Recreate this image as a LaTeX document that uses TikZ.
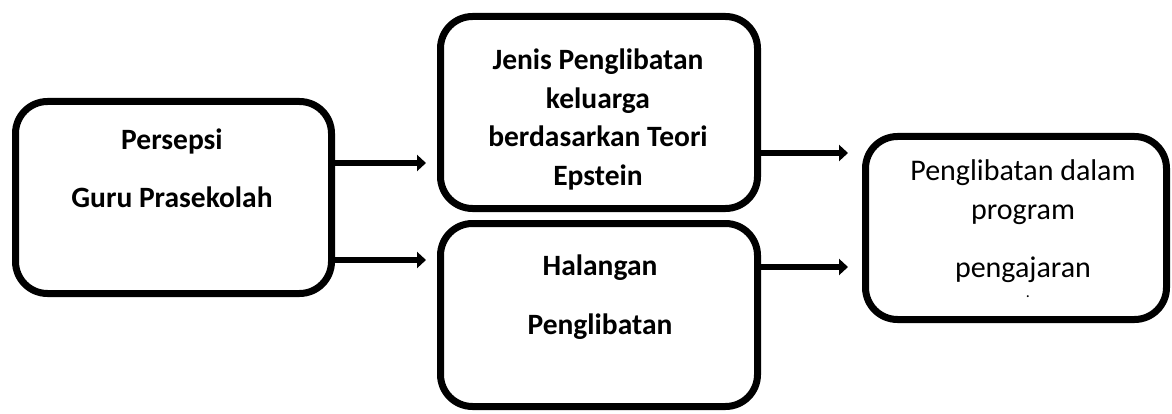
\documentclass[tikz,border=0pt]{standalone}
\usepackage{fontspec}
\setmainfont{Carlito}
\usetikzlibrary{arrows.meta}

\begin{document}
\begin{tikzpicture}[x=1pt,y=1pt,
                    box/.style={draw,line width=7pt,rounded corners=32pt,inner sep=0pt},
                    boxtext/.style={align=center,font=\fontsize{29.5}{38.5}\selectfont\bfseries},
                    plaintext/.style={align=center,font=\fontsize{30}{39}\selectfont},
                    arr/.style={line width=6pt,-{Triangle[length=9pt,width=16pt]}}]
\useasboundingbox (0,0) rectangle (1172,413);
% boxes
\node[box,minimum width=316pt,minimum height=192pt] (persepsi) at (173.5,215.5) {};
\node[box,minimum width=317pt,minimum height=192pt] (jenis) at (599,300.5) {};
\node[box,minimum width=317pt,minimum height=183pt] (halangan) at (599,98) {};
\node[box,minimum width=301pt,minimum height=183pt] (program) at (1016,185) {};
% texts
\node[boxtext] (persepsitext) at (172,245) {Persepsi\\[19.5pt]Guru Prasekolah};
\node[boxtext] (jenistext) at (598,293.5) {Jenis Penglibatan\\keluarga\\berdasarkan Teori\\Epstein};
\node[boxtext] (halangantext) at (600,116) {Halangan\\[21pt]Penglibatan};
\node[plaintext] (programtext) at (1023,191.5) {Penglibatan dalam\\program\\[19pt]pengajaran};
\node[plaintext,font=\fontsize{16}{16}\selectfont] (dot) at (1028,116) {.};
% arrows
\coordinate (a1) at (426,250);
\coordinate (a2) at (426,153);
\coordinate (a3) at (848,260);
\coordinate (a4) at (848,146);
\draw[arr] (persepsi.east |- a1) -- (a1);
\draw[arr] (persepsi.east |- a2) -- (a2);
\draw[arr] (jenis.east |- a3) -- (a3);
\draw[arr] (halangan.east |- a4) -- (a4);
\end{tikzpicture}
\end{document}
